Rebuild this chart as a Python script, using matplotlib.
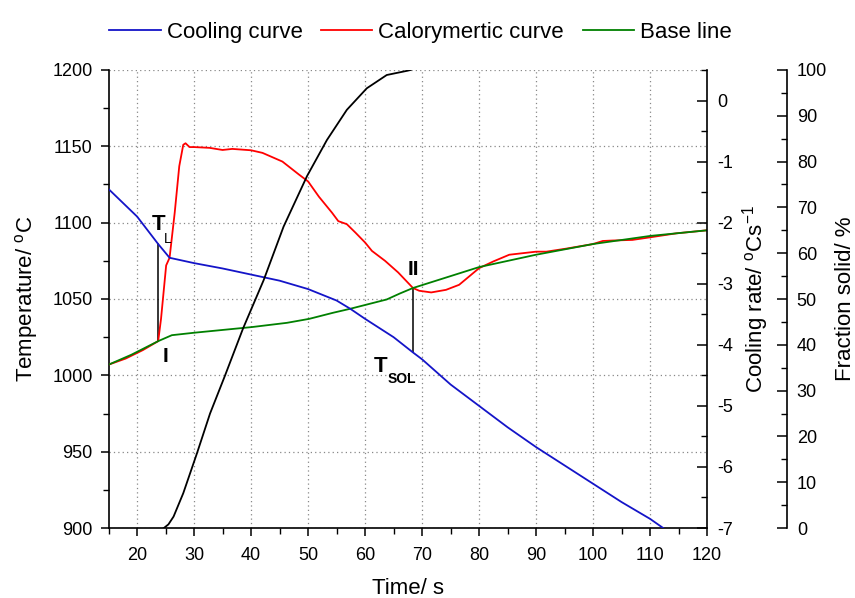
import matplotlib
matplotlib.use("Agg")
import matplotlib.pyplot as plt
from matplotlib.ticker import MultipleLocator

plt.rcParams["font.family"] = ["Liberation Sans", "DejaVu Sans"]
plt.rcParams["axes.unicode_minus"] = False

# cooling curve (temperature vs time)
cool_t = [15, 20, 23.7, 25.7, 30, 35, 40, 45, 50, 55, 57.4, 60, 65, 68.4,
          70, 75, 80, 85, 90, 95, 100, 105, 110, 112.3]
cool_T = [1122, 1104, 1086, 1077, 1073.5, 1070, 1066, 1062, 1056.5, 1049,
          1043.6, 1037, 1025, 1015, 1010.5, 994, 980, 966, 953, 941, 929,
          917, 906, 900]

# calorymetric curve
calo_t = [15, 18, 21, 23.7, 24.2, 25.1, 25.7, 26.6, 27.4, 28.1, 28.5, 29.2,
          30, 32.7, 35, 36.7, 40, 42, 45.5, 48.4, 50, 51.9, 54.2, 55.3, 56.8,
          58.3, 60, 61.2, 63.5, 65.8, 68.4, 69.5, 71.6, 74.2, 76.5, 80, 82.5,
          85.3, 90, 91.8, 95.3, 100, 101.7, 103.4, 106.9, 110, 114.6, 120]
calo_T = [1007, 1011, 1016.5, 1022.4, 1037, 1072, 1077, 1106.5, 1137, 1151,
          1152, 1149.5, 1149.5, 1149, 1147.6, 1148.3, 1147.4, 1145.7, 1140,
          1131.5, 1127, 1117, 1106.5, 1101, 1099, 1093.5, 1087, 1081.5, 1075,
          1067.4, 1057.2, 1055.4, 1054.3, 1056, 1059.3, 1070.2, 1074.6, 1079,
          1081, 1081, 1083, 1086, 1088, 1088.3, 1088.7, 1090.4, 1093, 1095]

# base line
base_t = [15, 19, 23.7, 26.1, 30, 40.1, 46.3, 50.2, 54.4, 57.4, 63.8, 66.1,
          68.4, 80, 90, 100, 110, 120]
base_T = [1007, 1013.5, 1022.4, 1026.3, 1027.9, 1031.6, 1034.4, 1037, 1041,
          1043.6, 1049.7, 1053.6, 1057.2, 1070.9, 1079, 1086, 1091.3, 1095]

# fraction solid (%)
frac_t = [24.7, 25.5, 26.4, 28.1, 30.5, 32.8, 35.4, 38.6, 42.2, 45.7, 49.8,
          53.3, 56.8, 60.3, 63.8, 67.3, 68]
frac_v = [0, 0.8, 2.5, 7.6, 16.3, 25, 33.2, 43.6, 54.1, 65.8, 76.8, 84.7,
          91.3, 96, 98.9, 99.8, 100]

# characteristic points
t_liq, T_liq, T_I = 23.7, 1086, 1022.4
t_sol, T_sol, T_II = 68.4, 1015, 1057.2

fig = plt.figure(figsize=(8.55, 5.98), dpi=100)
ax = fig.add_axes([0.127, 0.117, 0.700, 0.766])

l1, = ax.plot(cool_t, cool_T, color="#1414c8", lw=1.3, label="Cooling curve", zorder=4)
l2, = ax.plot(calo_t, calo_T, color="#ff0000", lw=1.3, label="Calorymertic curve", zorder=3)
l3, = ax.plot(base_t, base_T, color="#008000", lw=1.3, label="Base line", zorder=3.5)
ax.plot([t_liq, t_liq], [T_I, T_liq], color="black", lw=1.1)
ax.plot([t_sol, t_sol], [T_II, T_sol], color="black", lw=1.1)

ax.set_xlim(15, 120)
ax.set_ylim(900, 1200)
ax.xaxis.set_major_locator(MultipleLocator(10))
ax.xaxis.set_minor_locator(MultipleLocator(5))
ax.yaxis.set_major_locator(MultipleLocator(50))
ax.yaxis.set_minor_locator(MultipleLocator(25))
ax.tick_params(which="major", direction="out", length=6, width=1.1, labelsize=13)
ax.tick_params(which="minor", direction="out", length=4, width=1.0)
ax.tick_params(axis="x", which="major", pad=8)
ax.tick_params(axis="y", which="major", pad=5.5)
ax.grid(True, which="major", color="#888888", linestyle=(0, (1, 2.5)), lw=0.9)
ax.spines["top"].set_visible(False)
ax.spines["right"].set_visible(False)
for s in ("left", "bottom"):
    ax.spines[s].set_linewidth(1.2)
ax.set_xlabel("Time/ s", fontsize=16, labelpad=10)
ax.set_ylabel("Temperature/ $^{\\mathregular{o}}$C", fontsize=16, labelpad=9)

# labels for characteristic points
ax.text(23.7, 1098.5, "T", fontsize=16, fontweight="bold", ha="center", va="center")
ax.text(25.4, 1089.5, "L", fontsize=10, ha="center", va="center")
ax.text(24.9, 1012.5, "I", fontsize=15, fontweight="bold", ha="center", va="center")
ax.text(68.4, 1069.5, "II", fontsize=15, fontweight="bold", ha="center", va="center")
ax.text(62.8, 1005.5, "T", fontsize=16, fontweight="bold", ha="center", va="center")
ax.text(66.5, 997.5, "SOL", fontsize=10, fontweight="bold", ha="center", va="center")

# cooling rate axis
ax2 = ax.twinx()
ax2.set_ylim(-7, 0.5)
ax2.yaxis.set_major_locator(MultipleLocator(1))
ax2.yaxis.set_minor_locator(MultipleLocator(0.5))
ax2.tick_params(which="major", direction="in", length=7, width=1.1, labelsize=13, pad=7)
ax2.tick_params(which="minor", direction="in", length=4, width=1.0)
ax2.spines["top"].set_visible(False)
ax2.spines["left"].set_visible(False)
ax2.spines["bottom"].set_visible(False)
ax2.spines["right"].set_linewidth(1.2)
ax2.set_ylabel("Cooling rate/ $^{\\mathregular{o}}$Cs$^{\\mathregular{-1}}$", fontsize=16,
               labelpad=5)

# fraction solid axis
ax3 = ax.twinx()
ax3.spines["right"].set_position(("outward", 80 * 72 / 100))
ax3.plot(frac_t, frac_v, color="black", lw=1.3)
ax3.set_ylim(0, 100)
ax3.yaxis.set_major_locator(MultipleLocator(10))
ax3.yaxis.set_minor_locator(MultipleLocator(5))
ax3.tick_params(which="major", direction="in", length=7, width=1.1, labelsize=13, pad=7)
ax3.tick_params(which="minor", direction="in", length=4, width=1.0)
ax3.spines["top"].set_visible(False)
ax3.spines["left"].set_visible(False)
ax3.spines["bottom"].set_visible(False)
ax3.spines["right"].set_linewidth(1.2)
ax3.set_ylabel("Fraction solid/ %", fontsize=16, labelpad=6)

fig.legend(handles=[l1, l2, l3], loc="upper center", bbox_to_anchor=(0.492, 0.99),
           ncol=3, frameon=False, fontsize=16, handlelength=2.3,
           handletextpad=0.27, columnspacing=0.85, borderpad=0.2)

fig.savefig("out.png", dpi=100)
